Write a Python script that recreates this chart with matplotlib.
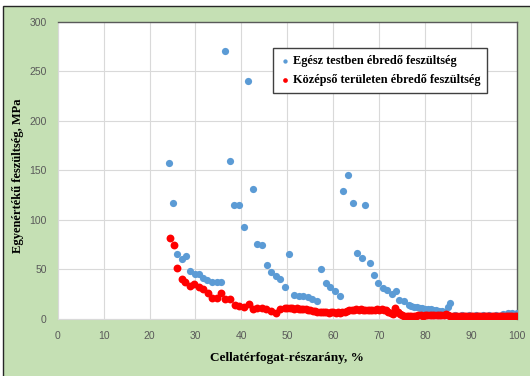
import matplotlib
matplotlib.use("Agg")
import matplotlib.pyplot as plt
from matplotlib.patches import Rectangle

# ---- data ----
blue_x = [24.2, 25.2, 26.0, 27.0, 28.0, 28.9, 29.8, 30.8, 31.7, 32.6, 33.6, 34.6, 35.6,
          36.4, 37.5, 38.4, 39.5, 40.6, 41.5, 42.6, 43.4, 44.5, 45.6, 46.5, 47.5, 48.5, 49.5,
          50.3, 51.4, 52.5, 53.5, 54.5, 55.4, 56.4, 57.4, 58.4, 59.3, 60.3, 61.4,
          62.2, 63.3, 64.2, 65.1, 66.2, 67.0, 68.0, 68.8, 69.8, 70.8, 71.8, 72.8, 73.7,
          74.4, 75.5, 76.4, 77.0, 77.6, 78.2, 78.8, 79.4, 80.0, 80.6, 81.2, 81.8, 82.4,
          83.0, 83.6, 84.2, 84.9, 85.4,
          86.5, 88.0, 89.5, 91.0, 92.5, 94.0, 95.5, 97.0, 98.0, 99.0, 100.0]
blue_y = [157, 117, 65.6, 60.5, 63.2, 47.8, 44.8, 45.6, 41.3, 39.3, 36.9, 36.9, 36.9,
          270, 159, 115, 114.5, 93, 240, 131, 75.5, 74.4, 54.7, 47.6, 43.3, 40, 31.8,
          65, 24.3, 23.3, 23.3, 22, 20, 18.2, 50.4, 36.2, 32.1, 27.7, 22.7,
          129, 145, 116.5, 66.6, 61.5, 115, 56.5, 44, 36.2, 31, 29.4, 25, 27.8,
          19.3, 18.2, 13.5, 12.6, 12.2, 11.5, 11, 10.8, 10.2, 9.8, 9.5, 9.0, 8.6,
          8.2, 7.8, 7.2, 12, 15.6,
          4.0, 3.8, 3.6, 3.5, 3.5, 3.4, 3.6, 5.0, 5.5, 5.8, 5.8]

red_x = [24.4, 25.3, 26.0, 27.0, 27.8, 28.8, 29.7, 30.7, 31.7, 32.7, 33.7, 34.6, 35.6,
         36.5, 37.5, 38.5, 39.4, 40.5, 41.6, 42.5, 43.5, 44.5, 45.4, 46.5, 47.5, 48.3, 49.4,
         50.0, 50.5, 51.0, 51.5, 52.0, 52.5, 53.0, 53.5, 54.0, 54.5, 55.0, 55.5, 56.0, 56.5,
         57.0, 57.5, 58.0, 58.5, 59.0, 59.5, 60.0, 60.5, 61.0, 61.5, 62.0, 62.5, 63.0, 63.5,
         64.0, 64.5, 65.0, 65.5, 66.0, 66.5, 67.0, 67.5, 68.0, 68.5, 69.0, 69.5, 70.0, 70.5,
         71.0, 71.5, 72.0, 72.5, 73.0, 73.5, 74.0, 74.5, 75.0, 75.5, 76.0, 76.5, 77.0, 77.5,
         78.0, 78.5, 79.0, 79.5, 80.0, 80.5, 81.0, 81.5, 82.0, 82.5, 83.0, 83.5, 84.0, 84.5,
         85.0, 85.5, 86.0, 86.5, 87.0, 87.5, 88.0, 88.5, 89.0, 89.5, 90.0, 90.5, 91.0, 91.5,
         92.0, 92.5, 93.0, 93.5, 94.0, 94.5, 95.0, 95.5, 96.0, 96.5, 97.0, 97.5, 98.0, 98.5,
         99.0, 99.5, 100.0]
red_y = [82, 74, 51, 40.5, 37, 33.5, 35, 32.5, 30, 25.7, 21.3, 21, 25.7,
         19.6, 19.6, 14, 13.2, 12.2, 15, 9.8, 10.5, 11, 9.5, 8, 6, 10, 10.5,
         11, 10.5, 10.8, 10.3, 10.5, 10, 10, 9.5, 9.5, 9, 8.5, 8, 7.5, 7,
         6.5, 7, 6.5, 6.8, 6, 6.5, 6.5, 6, 6.3, 6, 6.5, 7, 8, 8.5,
         8.5, 9, 9.5, 9, 10, 9, 8.5, 9, 8.5, 9, 9, 9.5, 9, 9.5,
         9, 8.5, 7, 5.5, 5, 10.5, 7, 4.5, 3.5, 3.2, 3, 3, 3.2, 3,
         3, 3.5, 3.5, 3.2, 4, 4, 3.8, 4.2, 3.8, 4, 3.5, 4, 3.8, 4.5,
         3.5, 3, 2.8, 2.7, 2.8, 2.6, 2.7, 2.5, 2.6, 2.5, 2.7, 2.5, 2.4, 2.6,
         2.5, 2.4, 2.6, 2.5, 2.7, 2.5, 2.6, 2.8, 2.6, 2.7, 3.0, 2.8, 3.0, 2.8,
         3.0, 2.9, 2.8]

x_ticks = [0, 10, 20, 30, 40, 50, 60, 70, 80, 90, 100]
y_ticks = [0, 50, 100, 150, 200, 250, 300]

label_blue = "Egész testben ébredő feszültség"
label_red = "Középső területen ébredő feszültség"
x_label = "Cellatérfogat-részarány, %"
y_label = "Egyenértékű feszültség, MPa"

# ---- figure ----
W, H = 530, 376
fig = plt.figure(figsize=(W / 100, H / 100), dpi=100)
fig.patch.set_facecolor("white")
bg = Rectangle((3 / W, -0.05), 1.2, 1 + 0.05 - 6 / H,
               transform=fig.transFigure, facecolor="#C5E0B4",
               edgecolor="#262626", linewidth=1.0, zorder=-10)
fig.add_artist(bg)

ax = fig.add_axes([57.7 / W, (H - 318.7) / H, (517 - 57.7) / W, (318.7 - 21.7) / H])
ax.set_zorder(1)
ax.set_facecolor("white")

ax.scatter(blue_x, blue_y, s=27, color="#5B9BD5", zorder=3, label=label_blue, linewidths=0)
ax.scatter(red_x, red_y, s=32, color="#FF0000", zorder=4, label=label_red, linewidths=0)

ax.set_xlim(0, 100)
ax.set_ylim(0, 300)
ax.set_xticks(x_ticks)
ax.set_yticks(y_ticks)
ax.tick_params(length=0, labelsize=7.5, labelcolor="#595959")
ax.tick_params(axis="x", pad=9)
ax.tick_params(axis="y", pad=8)
for lab in ax.get_xticklabels() + ax.get_yticklabels():
    lab.set_fontfamily("Liberation Sans")
ax.grid(True, color="#D9D9D9", linewidth=0.8)
ax.set_axisbelow(True)
for side in ["top", "right"]:
    ax.spines[side].set_color("#595959")
    ax.spines[side].set_linewidth(1.0)
for side in ["left", "bottom"]:
    ax.spines[side].set_color("#D9D9D9")
    ax.spines[side].set_linewidth(0.8)

ax.set_xlabel(x_label, fontfamily="Liberation Serif", fontweight="bold", fontsize=9.5,
              labelpad=8)
ax.set_ylabel(y_label, fontfamily="Liberation Serif", fontweight="bold", fontsize=9,
              labelpad=4)
ax.yaxis.label.set_y(0.48)

leg = ax.legend(loc="upper left", bbox_to_anchor=(0.469, 0.91), borderaxespad=0,
                frameon=True, fancybox=False, edgecolor="#404040", facecolor="white",
                framealpha=1, markerscale=0.6, handletextpad=0.15, handlelength=0.9,
                borderpad=0.55, labelspacing=0.6,
                prop={"family": "Liberation Serif", "weight": "bold", "size": 8.8})
leg.get_frame().set_linewidth(1.0)

fig.savefig("out.png", dpi=100, facecolor=fig.get_facecolor())
